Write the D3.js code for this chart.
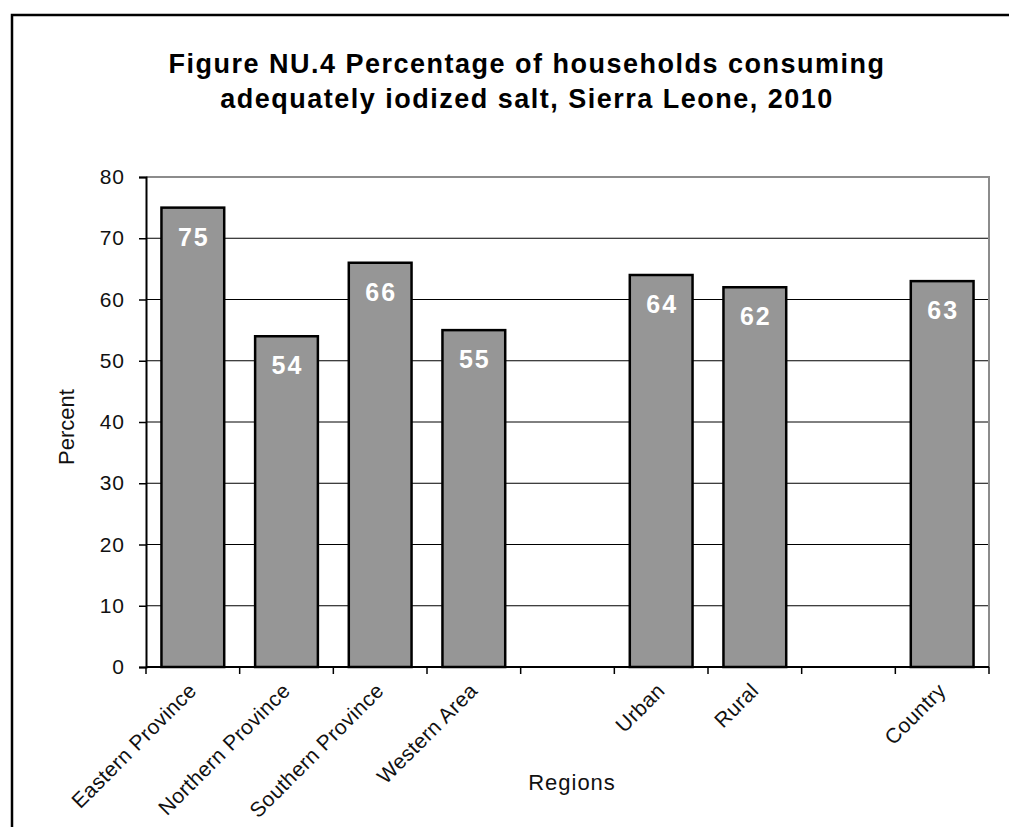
<!DOCTYPE html>
<html><head><meta charset="utf-8">
<script src="https://cdn.jsdelivr.net/npm/d3@7"></script>
<style>body{margin:0;background:#fff}svg{display:block}text{font-family:Arial,"Liberation Sans",sans-serif}</style>
</head><body>
<svg id="c" width="1009" height="827"></svg>
<script>
const categories = ["Eastern Province","Northern Province","Southern Province","Western Area","","Urban","Rural","","Country"];
const values = [75,54,66,55,null,64,62,null,63];
const yTicks = [0,10,20,30,40,50,60,70,80];
const titleLines = ["Figure NU.4 Percentage of households consuming","adequately iodized salt, Sierra Leone, 2010"];
const yLabel = "Percent", xLabel = "Regions";

const svg = d3.select("#c");
const L=146, R=989, T=177, B=667;
const idx = categories.map((c,i)=>i);
const x = d3.scaleBand().domain(idx).range([L,R]).paddingInner(0.33).paddingOuter(0.165);
const y = d3.scaleLinear().domain([0,80]).range([B,T]);

// frame
svg.append("rect").attr("x",12).attr("y",15).attr("width",1100).attr("height",900)
  .attr("fill","none").attr("stroke","#000").attr("stroke-width",2.5);

// title
svg.append("g").selectAll("text").data(titleLines).join("text")
  .attr("x",527).attr("y",(d,i)=>73+i*35).attr("text-anchor","middle")
  .attr("font-weight","bold").attr("font-size",27).attr("letter-spacing",1.5).text(d=>d);

// gridlines
svg.append("g").selectAll("line").data(yTicks.filter(t=>t>0&&t<80)).join("line")
  .attr("x1",L).attr("x2",R).attr("y1",d=>y(d)).attr("y2",d=>y(d))
  .attr("stroke","#000").attr("stroke-width",1);
// top and right border gray
svg.append("path").attr("d",`M${L},${T}H${R}V${B}`).attr("fill","none").attr("stroke","#8c8c8c").attr("stroke-width",2);

// bars
const data = idx.filter(i=>values[i]!=null);
svg.append("g").selectAll("rect").data(data).join("rect")
  .attr("x",i=>x(i)).attr("width",x.bandwidth())
  .attr("y",i=>y(values[i])).attr("height",i=>y(0)-y(values[i]))
  .attr("fill","#969696").attr("stroke","#000").attr("stroke-width",2.5);
svg.append("g").selectAll("text").data(data).join("text")
  .attr("x",i=>x(i)+x.bandwidth()/2+1).attr("y",i=>y(values[i])+38)
  .attr("text-anchor","middle").attr("fill","#fff").attr("font-weight","bold").attr("font-size",25)
  .attr("letter-spacing",2)
  .text(i=>values[i]);

// y axis
const ya = svg.append("g").attr("transform",`translate(${L},0)`)
  .call(d3.axisLeft(y).tickValues(yTicks).tickSize(7).tickPadding(14));
ya.select(".domain").attr("stroke","#000").attr("stroke-width",2);
ya.selectAll(".tick line").attr("stroke","#000").attr("stroke-width",1.5);
ya.selectAll("text").attr("font-size",21).attr("letter-spacing",1).attr("font-family","Arial, Liberation Sans, sans-serif").attr("fill","#111");

// x axis
svg.append("line").attr("x1",L).attr("x2",R).attr("y1",B).attr("y2",B).attr("stroke","#000").attr("stroke-width",2);
const bounds = d3.range(categories.length+1).map(k=>L+k*(R-L)/categories.length);
svg.append("g").selectAll("line").data(bounds).join("line")
  .attr("x1",d=>d).attr("x2",d=>d).attr("y1",B).attr("y2",B+7).attr("stroke","#000").attr("stroke-width",1.5);
svg.append("g").selectAll("text").data(idx.filter(i=>categories[i])).join("text")
  .attr("transform",i=>`translate(${x(i)+x.bandwidth()/2+5},${B+25}) rotate(-45)`)
  .attr("text-anchor","end").attr("font-size",21).attr("letter-spacing",0.4).attr("fill","#111").text(i=>categories[i]);

// axis titles
svg.append("text").attr("transform","translate(74,427) rotate(-90)").attr("text-anchor","middle")
  .attr("font-size",22).attr("fill","#111").text(yLabel);
svg.append("text").attr("x",572).attr("y",790).attr("text-anchor","middle")
  .attr("font-size",22).attr("letter-spacing",1).attr("fill","#111").text(xLabel);
</script>
</body></html>
